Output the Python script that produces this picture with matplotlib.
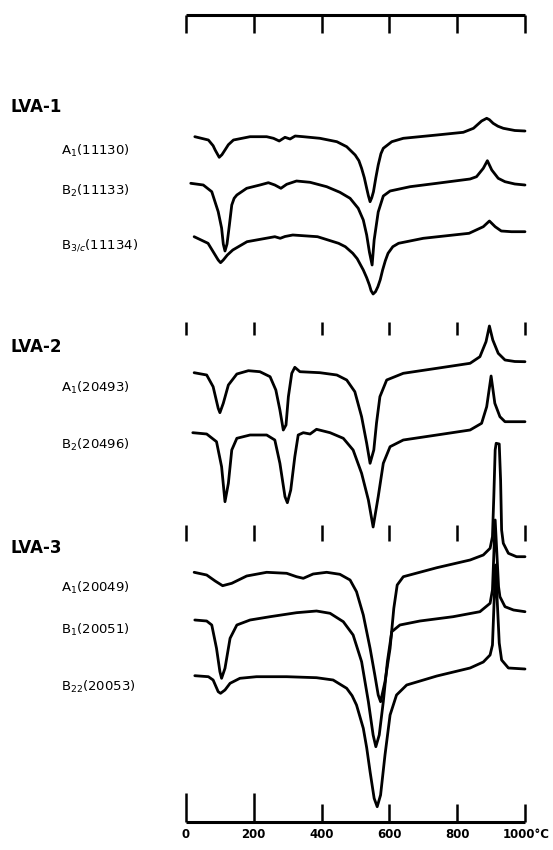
import matplotlib
matplotlib.use("Agg")
import matplotlib.pyplot as plt

# DTA curves, temperature in degC, signal = deflection from the starting level (chart units, up = exo)
ticks = [0, 200, 400, 600, 800, 1000]
tick_labels = ["0", "200", "400", "600", "800", "1000°C"]

groups = ["LVA-1", "LVA-2", "LVA-3"]

lva1_a1_t = [26, 66, 80, 86, 98, 106, 115, 125, 140, 189, 238, 258, 275, 292, 307, 322, 346, 395, 445,
             474, 499, 510, 518, 526, 533, 538, 543, 548, 553, 560, 567, 575, 582, 607, 641, 740, 818,
             848, 872, 887, 895, 906, 920, 936, 970, 1000]
lva1_a1_s = [0, -3.3, -9, -13.3, -20.6, -18, -13.3, -8, -3.3, 0, 0, -1.6, -4.3, -0.6, -2.3, 0.7, 0, -1.6, -5,
             -10, -18.3, -24, -31.6, -41, -51.6, -59, -65, -61, -55, -41, -28.3, -17, -11.6, -5, -1.6, 1.7, 4.4,
             8.4, 15.7, 18.4, 17, 13.4, 10.5, 8.4, 6.2, 5.7]

lva1_b2_t = [14, 51, 76, 95, 105, 110, 115, 121, 128, 135, 142, 150, 179, 218, 243, 262, 280, 297, 326, 366,
             415, 454, 484, 508, 523, 533, 541, 549, 555, 567, 582, 602, 661, 740, 838, 857, 877, 889,
             902, 921, 941, 970, 1000]
lva1_b2_s = [0, -1.7, -8.4, -28.4, -44.7, -60.7, -67.7, -60.7, -41.7, -21.7, -15, -11.7, -5, -1.7, 0.6, -1.7, -5,
             -1, 2.3, 1, -3.4, -9, -15, -25, -36.7, -51.7, -68.7, -81.7, -56.7, -28.7, -12.7, -7.7, -3.4, 0,
             4.3, 6.6, 15, 22.6, 13.3, 5, 1.6, -0.7, -1.7]

lva1_b3_t = [24, 65, 86, 95, 102, 110, 122, 138, 180, 262, 278, 292, 315, 388, 450, 470, 492, 505, 523, 533,
             541, 546, 552, 559, 566, 573, 580, 588, 596, 610, 627, 700, 835, 877, 895, 912, 930, 960, 1000]
lva1_b3_s = [0, -6.6, -18.3, -23.3, -26, -23.3, -18.3, -13.3, -5, 0, -1.6, 0.2, 1.7, 0, -6.6, -10, -16.6, -22,
             -33.3, -41, -48.3, -54, -57.3, -55, -50, -43, -33.3, -24, -16.6, -10, -6.6, -1.6, 3.4, 10, 15.7,
             10, 5.7, 5, 5]

lva2_a1_t = [24, 61, 80, 95, 100, 110, 125, 150, 184, 218, 248, 265, 277, 287, 295, 302, 312, 321, 336,
             395, 445, 474, 498, 518, 533, 543, 554, 562, 572, 592, 641, 740, 838, 867, 885, 895, 905, 921,
             941, 970, 1000]
lva2_a1_s = [0, -2.3, -14, -35.6, -40, -30.6, -12.3, -1.3, 2, 1, -4, -17.3, -37.3, -57.3, -52.3, -24, -0.6,
             5.4, 1, 0, -2.3, -7.3, -19, -44, -70.6, -90.6, -77.3, -50.3, -24, -7.3, -0.6, 4.4, 9.4, 16, 31,
             46.7, 32.7, 19.4, 12.7, 11.2, 11]

lva2_b2_t = [20, 61, 90, 105, 115, 125, 135, 150, 189, 238, 262, 277, 292, 299, 309, 321, 331, 346, 366,
             385, 425, 464, 493, 518, 538, 552, 567, 582, 602, 641, 740, 838, 872, 887, 900, 911, 926, 941,
             970, 1000]
lva2_b2_s = [0, -1.3, -9, -34, -69, -50.6, -17.3, -5.6, -2.3, -2.3, -7.3, -30.6, -64, -70, -57.3, -24, -2.3,
             0, -1.3, 3.4, 0, -5.6, -17.3, -40.6, -67.3, -94.3, -64, -30.6, -14, -7.3, -2.3, 2.7, 9.4, 26,
             56.7, 29.4, 16, 11, 11, 11]

lva3_a1_t = [24, 61, 86, 108, 135, 179, 238, 297, 326, 346, 375, 415, 454, 484, 503, 523, 543, 557, 567,
             574, 587, 602, 613, 623, 641, 740, 838, 877, 897, 904, 908, 912, 915, 924, 928, 931, 936, 951,
             975, 1000]
lva3_a1_s = [0, -2.7, -8.7, -13.4, -11, -3.7, 0, -1, -4.4, -6, -1.7, 0, -2, -7.7, -19.4, -42.7, -76, -102.7,
             -122.7, -129.4, -109.4, -76, -36, -12.7, -4.4, 4.6, 12.3, 17.3, 24, 35.6, 75.6, 122.3, 129,
             128.3, 92.3, 42.3, 29, 19, 15.6, 15.6]

lva3_b1_t = [26, 61, 76, 90, 100, 105, 115, 130, 150, 189, 248, 326, 385, 425, 464, 493, 518, 538, 552,
             560, 570, 582, 594, 607, 631, 690, 788, 867, 897, 904, 912, 922, 926, 941, 966, 1000]
lva3_b1_s = [0, -1, -5, -28.3, -51.7, -58.3, -48.3, -18.3, -5, 0, 3.3, 7.3, 9, 6.7, -1.7, -15, -41.7, -81.7,
             -115, -126.7, -115, -81.7, -41.7, -11.7, -5, -1, 3.3, 8.3, 16.7, 30, 100, 33.3, 23.3, 13.3, 10,
             8.3]

lva3_b22_t = [26, 66, 80, 95, 102, 115, 130, 159, 208, 297, 385, 434, 474, 490, 503, 523, 533, 543, 555, 564,
              574, 587, 602, 621, 651, 740, 838, 877, 897, 904, 913, 924, 931, 951, 1000]
lva3_b22_s = [0, -1, -4.3, -16, -17.6, -14.3, -7.6, -2.6, -1, -1, -2, -4.3, -12.6, -20, -29.3, -52.6, -72, -96,
              -122.6, -131, -119.3, -79.3, -39.3, -19.3, -9.3, -0.3, 7.7, 13.7, 20.7, 30.7, 110.7, 32.7, 15.7,
              7.7, 6.7]

samples = [
    (r"A$_1$(11130)", lva1_a1_t, lva1_a1_s),
    (r"B$_2$(11133)", lva1_b2_t, lva1_b2_s),
    (r"B$_{3/c}$(11134)", lva1_b3_t, lva1_b3_s),
    (r"A$_1$(20493)", lva2_a1_t, lva2_a1_s),
    (r"B$_2$(20496)", lva2_b2_t, lva2_b2_s),
    (r"A$_1$(20049)", lva3_a1_t, lva3_a1_s),
    (r"B$_1$(20051)", lva3_b1_t, lva3_b1_s),
    (r"B$_{22}$(20053)", lva3_b22_t, lva3_b22_s),
]

# layout (figure pixels)
W, H = 553, 850
px0, px_per_deg = 186, 0.339
base_y = [136.7, 183.3, 236.7, 372.7, 432.7, 572.3, 620, 675.7]
label_y = [151, 191, 245, 388, 445, 588, 630, 687]
group_y = [107, 347, 548]

plt.rcParams['font.family'] = ['DejaVu Sans']
plt.rcParams['mathtext.fontset'] = 'dejavusans'

fig = plt.figure(figsize=(W / 100, H / 100), dpi=100)
ax = fig.add_axes([0, 0, 1, 1])
ax.set_xlim(-px0 / px_per_deg, (W - px0) / px_per_deg)
ax.set_ylim(H, 0)
ax.axis('off')

for (name, t, s), y0, ly in zip(samples, base_y, label_y):
    ax.plot(t, [y0 - v for v in s], color='black', lw=2.0, solid_capstyle='round', solid_joinstyle='round')
    fig.text(61 / W, 1 - ly / H, name, fontsize=9.5, va='center', ha='left')

for g, gy in zip(groups, group_y):
    fig.text(10 / W, 1 - gy / H, g, fontsize=12, fontweight='bold', va='center', ha='left')

# temperature scales
ax.hlines(15, ticks[0], ticks[-1], color='black', lw=2.2)
ax.vlines(ticks, 15, 33, color='black', lw=1.8)
ax.vlines(ticks, 322, 335, color='black', lw=1.8)
ax.vlines(ticks, 525, 541, color='black', lw=1.8)
ax.hlines(821.7, ticks[0], ticks[-1], color='black', lw=2.2)
ax.vlines(ticks[:2], 793, 821.7, color='black', lw=1.8)
ax.vlines(ticks[2:], 804, 821.7, color='black', lw=1.8)
for t, lab in zip(ticks, tick_labels):
    if lab.endswith('C'):
        ax.text(t - 65, 834, lab, fontsize=8.5, fontweight='bold', ha='left', va='center')
    else:
        ax.text(t, 834, lab, fontsize=8.5, fontweight='bold', ha='center', va='center')

fig.savefig('out.png', dpi=100)
